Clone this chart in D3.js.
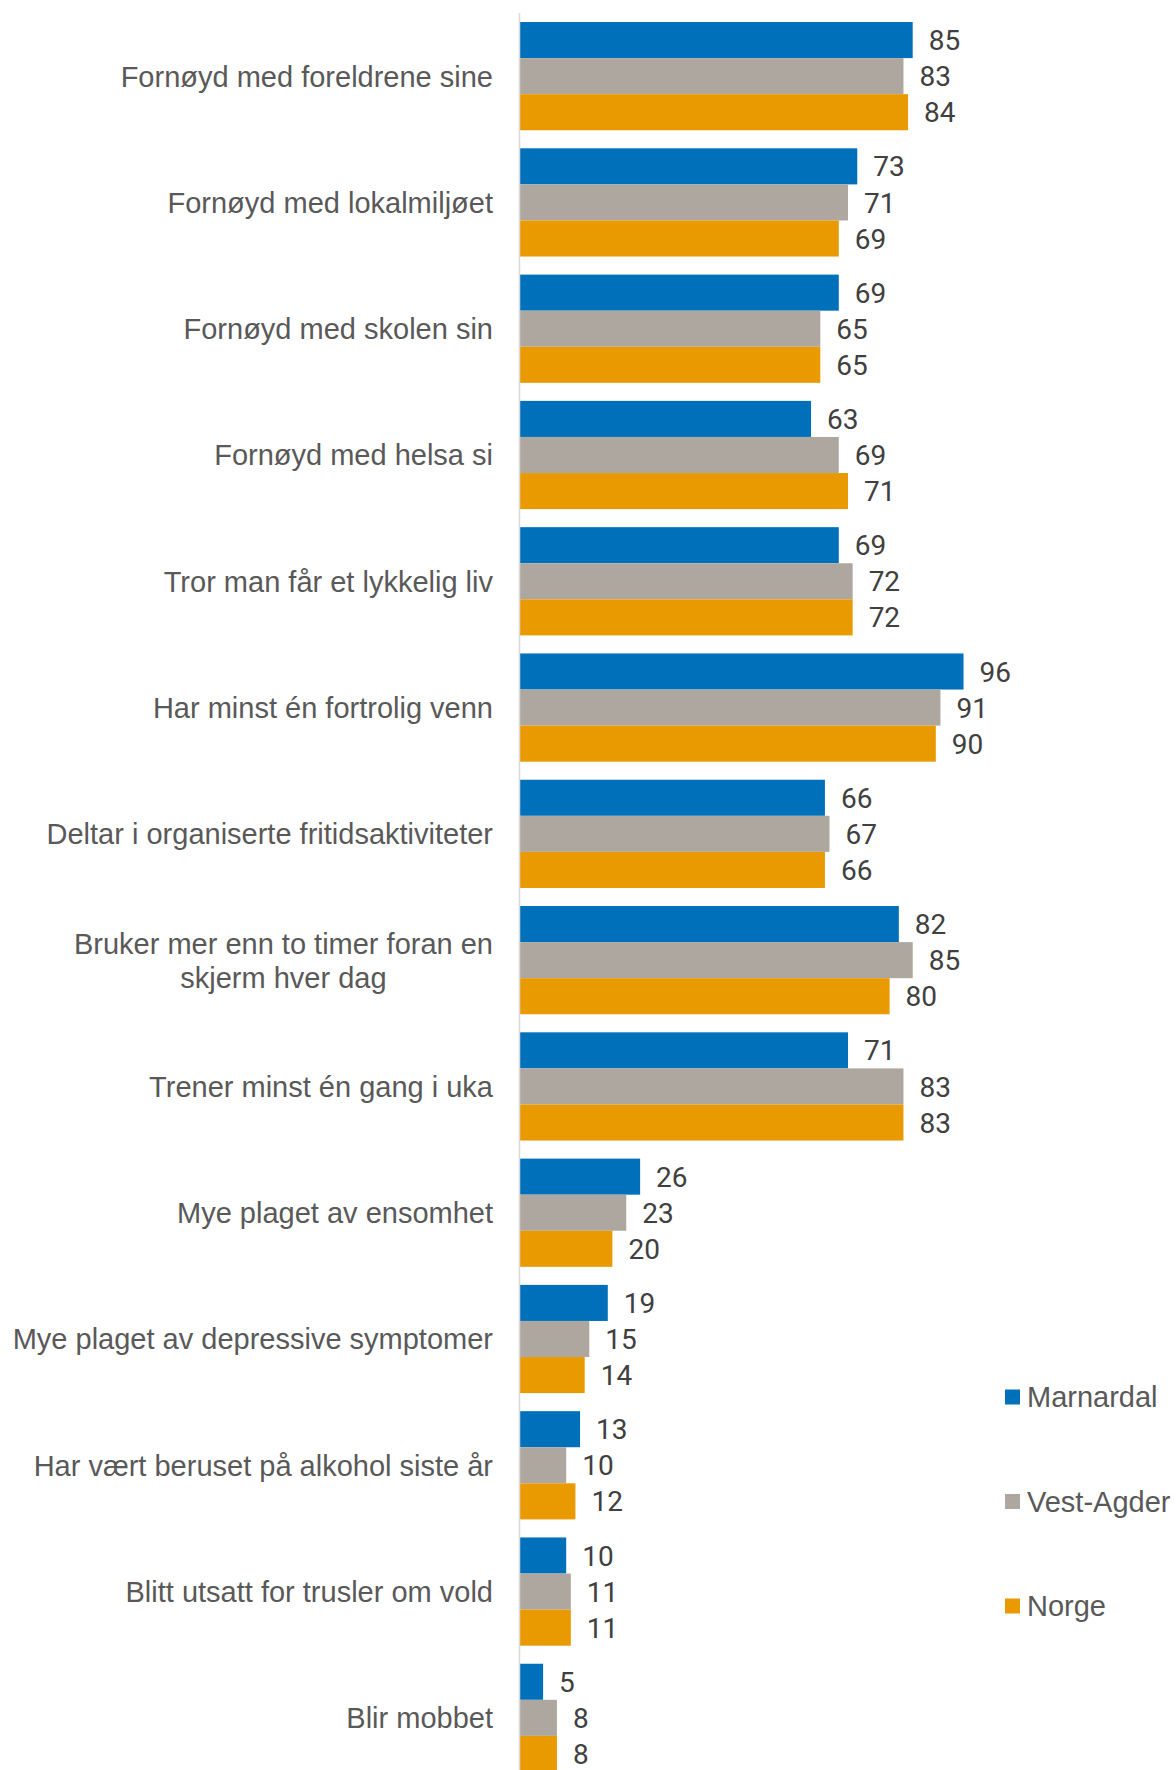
<!DOCTYPE html>
<html>
<head>
<meta charset="utf-8">
<script src="https://cdn.jsdelivr.net/npm/d3@7"></script>
<style>
  html, body { margin: 0; padding: 0; background: #fff; }
  svg { display: block; }
</style>
</head>
<body>
<div id="chart"></div>
<script>
// categories, top to bottom ("\n" marks a wrapped label)
var categories = [
    "Fornøyd med foreldrene sine",
    "Fornøyd med lokalmiljøet",
    "Fornøyd med skolen sin",
    "Fornøyd med helsa si",
    "Tror man får et lykkelig liv",
    "Har minst én fortrolig venn",
    "Deltar i organiserte fritidsaktiviteter",
    "Bruker mer enn to timer foran en\nskjerm hver dag",
    "Trener minst én gang i uka",
    "Mye plaget av ensomhet",
    "Mye plaget av depressive symptomer",
    "Har vært beruset på alkohol siste år",
    "Blitt utsatt for trusler om vold",
    "Blir mobbet"
];

var seriesNames = ["Marnardal", "Vest-Agder", "Norge"];
var marnardal = [85, 73, 69, 63, 69, 96, 66, 82, 71, 26, 19, 13, 10, 5];
var vestAgder = [83, 71, 65, 69, 72, 91, 67, 85, 83, 23, 15, 10, 11, 8];
var norge = [84, 69, 65, 71, 72, 90, 66, 80, 83, 20, 14, 12, 11, 8];
var colors = ["#0070BB", "#AEA79F", "#E89A00"];

(function () {
    "use strict";

    var width = 1176,
        height = 1770,
        axisX = 520,
        series = [marnardal, vestAgder, norge];

    var svg = d3.select("#chart").append("svg")
        .attr("width", width)
        .attr("height", height);

    var x = d3.scaleLinear().domain([0, 100]).range([axisX, 982]);

    var y = d3.scaleBand()
        .domain(categories)
        .range([13, 1781])
        .paddingInner(0.143)
        .paddingOuter(0.0715);

    var y1 = d3.scaleBand()
        .domain(seriesNames)
        .range([0, y.bandwidth()]);

    var groups = svg.selectAll("g.cat")
        .data(categories)
        .enter().append("g")
        .attr("class", "cat")
        .attr("transform", function (d) { return "translate(0," + y(d) + ")"; });

    groups.selectAll("rect")
        .data(function (d, i) {
            return series.map(function (s, j) {
                return {name: seriesNames[j], value: s[i], color: colors[j]};
            });
        })
        .enter().append("rect")
        .attr("x", x(0))
        .attr("y", function (d) { return y1(d.name); })
        .attr("width", function (d) { return x(d.value) - x(0); })
        .attr("height", y1.bandwidth())
        .attr("fill", function (d) { return d.color; });

    groups.selectAll("text.val")
        .data(function (d, i) {
            return series.map(function (s, j) {
                return {name: seriesNames[j], value: s[i]};
            });
        })
        .enter().append("text")
        .attr("class", "val")
        .attr("x", function (d) { return x(d.value) + 16; })
        .attr("y", function (d) { return y1(d.name) + y1.bandwidth() / 2; })
        .attr("dy", "0.36em")
        .attr("font-family", "Roboto, sans-serif")
        .attr("font-size", 28)
        .attr("fill", "#404040")
        .text(function (d) { return d.value; });

    // category labels, wrapped lines centred on each other like Excel does
    groups.each(function (d) {
        var g = d3.select(this),
            lines = d.split("\n"),
            lineH = 34,
            cy = y.bandwidth() / 2 - (lines.length - 1) * lineH / 2,
            t = g.append("text")
                .attr("font-family", "'Liberation Sans', Arial, sans-serif")
                .attr("font-size", 29)
                .attr("fill", "#595959");
        lines.forEach(function (line, k) {
            t.append("tspan")
                .attr("x", 0)
                .attr("y", cy + k * lineH)
                .attr("dy", "0.36em")
                .attr("text-anchor", "middle")
                .text(line);
        });
        var widest = d3.max(t.selectAll("tspan").nodes(), function (n) {
            return n.getComputedTextLength();
        });
        t.selectAll("tspan").attr("x", 493 - widest / 2);
    });

    // vertical category axis line
    svg.append("line")
        .attr("x1", axisX - 0.5).attr("x2", axisX - 0.5)
        .attr("y1", 13).attr("y2", height)
        .attr("stroke", "#D9D9D9")
        .attr("stroke-width", 1.5);

    // legend
    var legend = svg.selectAll("g.legend")
        .data(seriesNames)
        .enter().append("g")
        .attr("class", "legend")
        .attr("transform", function (d, i) { return "translate(1005," + (1397 + i * 104.5) + ")"; });

    legend.append("rect")
        .attr("x", 0).attr("y", -7.5)
        .attr("width", 15).attr("height", 15)
        .attr("fill", function (d, i) { return colors[i]; });

    legend.append("text")
        .attr("x", 22)
        .attr("dy", "0.36em")
        .attr("font-family", "'Liberation Sans', Arial, sans-serif")
        .attr("font-size", 29)
        .attr("fill", "#595959")
        .text(function (d) { return d; });
}());
</script>
</body>
</html>
